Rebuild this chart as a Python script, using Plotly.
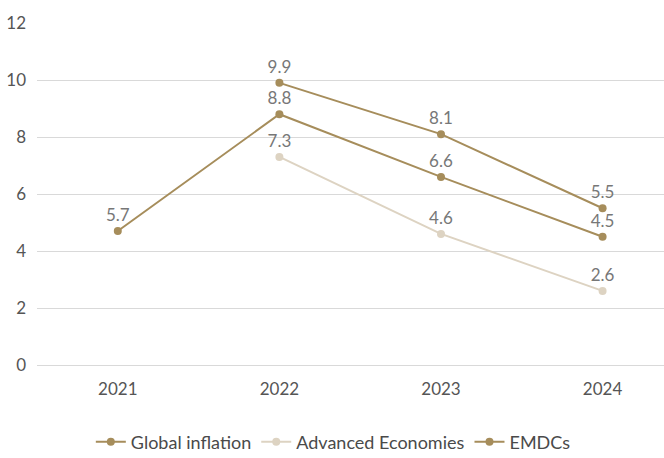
import plotly.graph_objects as go

years = ["2021", "2022", "2023", "2024"]
global_vals = [4.7, 8.8, 6.6, 4.5]
global_labels = ["5.7", "8.8", "6.6", "4.5"]
adv_vals = [None, 7.3, 4.6, 2.6]
adv_labels = ["", "7.3", "4.6", "2.6"]
emdc_vals = [None, 9.9, 8.1, 5.5]
emdc_labels = ["", "9.9", "8.1", "5.5"]
y_ticks = [0, 2, 4, 6, 8, 10, 12]

gold = "#A68D5B"
light = "#DDD3C2"
font_family = "Lato, 'Open Sans', sans-serif"

fig = go.Figure()

def add(name, vals, labels, color):
    fig.add_trace(go.Scatter(
        x=years, y=vals, name=name, mode="lines+markers+text",
        text=labels, textposition="top center",
        textfont=dict(color="#777777", size=17, family=font_family),
        line=dict(color=color, width=2),
        marker=dict(color=color, size=8),
        connectgaps=False,
        cliponaxis=False,
    ))

add("Global inflation", global_vals, global_labels, gold)
add("Advanced Economies", adv_vals, adv_labels, light)
add("EMDCs", emdc_vals, emdc_labels, gold)

fig.update_layout(
    width=664, height=458,
    margin=dict(l=37, r=0, t=23, b=93),
    paper_bgcolor="white", plot_bgcolor="white",
    font=dict(family=font_family, color="#555555", size=17),
    showlegend=True,
    legend=dict(
        orientation="h", xref="container", yref="container",
        x=0.502, xanchor="center", y=0.035, yanchor="middle",
        font=dict(size=18, color="#4a4a4a"),
        itemwidth=30, tracegroupgap=0,
    ),
    xaxis=dict(
        type="category", range=[-0.5, 3.38],
        showgrid=False, zeroline=False, showline=False,
        ticks="", ticklabelstandoff=12,
        tickfont=dict(size=17, color="#555555"),
    ),
    yaxis=dict(
        range=[0, 12], tickvals=y_ticks,
        showgrid=True, gridcolor="#d9d9d9", gridwidth=1,
        zeroline=True, zerolinecolor="#d9d9d9", zerolinewidth=1,
        showline=False, ticks="", ticklabelstandoff=10,
        tickfont=dict(size=17, color="#555555"),
    ),
)

fig.write_html("out.html")
